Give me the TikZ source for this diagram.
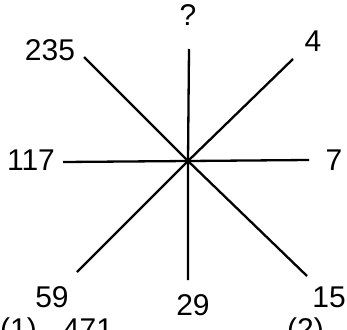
\documentclass[tikz,border=0pt]{standalone}
\usepackage{fontspec}
\setmainfont{Liberation Sans}
\usetikzlibrary{positioning}

\begin{document}
\begin{tikzpicture}[
	x=1pt, y=-1pt,
	font=\fontsize{30}{33}\selectfont,
	zahl/.style={inner sep=0pt, anchor=base},
	strahl/.style={draw=black, line width=2.3pt},
	]

\useasboundingbox (0,0) rectangle (347,329);
\clip (0,0) rectangle (347,329);

% Mittelpunkt und Strahlenenden
\coordinate (m) at (188,161);
\coordinate (n) at (189,49);
\coordinate (s) at (188,280);
\coordinate (w) at (63,162);
\coordinate (o) at (309,160);
\coordinate (nw) at (84,57);
\coordinate (so) at (307,276);
\coordinate (no) at (293,59);
\coordinate (sw) at (77,272);

\draw[strahl] (n) -- (m) -- (s);
\draw[strahl] (w) -- (m) -- (o);
\draw[strahl] (nw) -- (m) -- (so);
\draw[strahl] (no) -- (m) -- (sw);

% Zahlen
\node[zahl] (zn) at (188,26) {?};
\node[zahl] (znw) at (50,60) {235};
\node[zahl] (zno) at (313,51) {4};
\node[zahl] (zw) at (31,170) {117};
\node[zahl] (zo) at (334,170) {7};
\node[zahl] (zsw) at (52,307) {59};
\node[zahl] (zs) at (193,315) {29};
\node[zahl] (zso) at (329,307) {15};

% Antworten (abgeschnitten)
\node[zahl, anchor=base west] (a1) at (0,339) {(1)};
\node[zahl] (w1) at (88,339) {471};
\node[zahl, anchor=base west] (a2) at (287,339) {(2)};

\end{tikzpicture}
\end{document}
